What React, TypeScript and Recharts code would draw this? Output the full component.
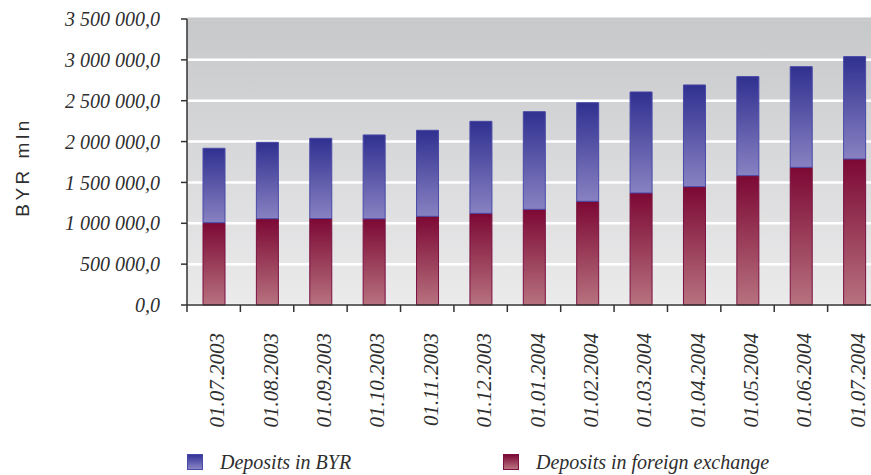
import { BarChart, Bar, XAxis, YAxis, CartesianGrid, Legend, ReferenceLine } from 'recharts';

const dates = [
  '01.07.2003', '01.08.2003', '01.09.2003', '01.10.2003', '01.11.2003', '01.12.2003',
  '01.01.2004', '01.02.2004', '01.03.2004', '01.04.2004', '01.05.2004', '01.06.2004', '01.07.2004',
];
const foreignDeposits = [
  1007000, 1056000, 1058000, 1055000, 1085000, 1122000,
  1171000, 1269000, 1371000, 1448000, 1583000, 1685000, 1787000,
];
const byrDeposits = [
  911000, 935000, 982000, 1026000, 1053000, 1126000,
  1195000, 1207000, 1236000, 1245000, 1212000, 1232000, 1253000,
];
const yTicks = [0, 500000, 1000000, 1500000, 2000000, 2500000, 3000000, 3500000];
const yMax = 3500000;

const data = dates.map((date, i) => ({ date, foreign: foreignDeposits[i], byr: byrDeposits[i] }));

const serif = '"Liberation Serif", "Times New Roman", serif';
const textColor = '#2e2e2e';

const formatValue = (v: number) => {
  const s = Math.round(v).toString().replace(/\B(?=(\d{3})+(?!\d))/g, ' ');
  return `${s},0`;
};

const XTick = (props: any) => {
  const { x, y, payload } = props;
  const edge = x - (payload.offset || 0);
  return (
    <g>
      <line x1={edge} x2={edge} y1={y} y2={y + 7} stroke="#333" strokeWidth={1.5} />
      <text
        x={x}
        y={y + 28}
        transform={`rotate(-90, ${x}, ${y + 28})`}
        textAnchor="end"
        dy="0.5em"
        fontFamily={serif}
        fontStyle="italic"
        fontSize={21}
        fill={textColor}
      >
        {payload.value}
      </text>
    </g>
  );
};

const YLabel = (props: any) => {
  const { viewBox } = props;
  const cx = 22;
  const cy = viewBox.y + viewBox.height / 2 + 5;
  return (
    <text
      x={cx}
      y={cy}
      transform={`rotate(-90, ${cx}, ${cy})`}
      textAnchor="middle"
      dy="0.35em"
      fontFamily='"Liberation Sans", Arial, sans-serif'
      fontSize={19}
      letterSpacing={3.5}
      fill={textColor}
    >
      BYR mln
    </text>
  );
};

const legendItems = [
  { label: 'Deposits in BYR', left: 187, bg: 'linear-gradient(#333399, #8a84c4)', border: '#4a4aa8' },
  { label: 'Deposits in foreign exchange', left: 503, bg: 'linear-gradient(#7c0a36, #b8727f)', border: '#7a1040' },
];

const LegendContent = () => (
  <div style={{ position: 'relative', width: 871, height: 25 }}>
    {legendItems.map((item) => (
      <div key={item.label} style={{ position: 'absolute', left: item.left, top: 3, display: 'flex', alignItems: 'center' }}>
        <span
          style={{
            display: 'inline-block',
            width: 16,
            height: 16,
            background: item.bg,
            border: `1px solid ${item.border}`,
            boxSizing: 'border-box',
          }}
        />
        <span
          style={{
            marginLeft: 17,
            fontFamily: serif,
            fontStyle: 'italic',
            fontSize: 20,
            color: textColor,
            lineHeight: '18px',
          }}
        >
          {item.label}
        </span>
      </div>
    ))}
  </div>
);

export default function App() {
  return (
    <div style={{ position: 'absolute', left: 0, top: 0, width: 871, height: 475, overflow: 'hidden', background: '#fff' }}>
      <BarChart width={881} height={475} data={data} margin={{ top: 19, right: 0, left: 0, bottom: 0 }} barSize={22}>
        <defs>
          <linearGradient id="plotBg" x1="0" y1="0" x2="0" y2="1">
            <stop offset="0%" stopColor="#c7c8ca" />
            <stop offset="100%" stopColor="#ebebec" />
          </linearGradient>
          <linearGradient id="blueFill" x1="0" y1="0" x2="0" y2="1">
            <stop offset="0%" stopColor="#303090" />
            <stop offset="100%" stopColor="#8882c2" />
          </linearGradient>
          <linearGradient id="redFill" x1="0" y1="0" x2="0" y2="1">
            <stop offset="0%" stopColor="#7c0834" />
            <stop offset="100%" stopColor="#b7727f" />
          </linearGradient>
        </defs>
        <CartesianGrid vertical={false} fill="url(#plotBg)" fillOpacity={1} stroke="#ffffff" strokeWidth={2.5} />
        <ReferenceLine y={yMax} stroke="#c7c8ca" strokeWidth={3} />
        <XAxis
          dataKey="date"
          height={145}
          tickLine={false}
          tickSize={0}
          tickMargin={0}
          axisLine={{ stroke: '#333', strokeWidth: 1.5 }}
          interval={0}
          tick={<XTick />}
        />
        <YAxis
          type="number"
          domain={[0, yMax]}
          ticks={yTicks}
          width={187}
          tickSize={6}
          tickMargin={21}
          axisLine={{ stroke: '#333', strokeWidth: 1.5 }}
          tickLine={{ stroke: '#333', strokeWidth: 1.5 }}
          tickFormatter={formatValue}
          tick={{ fontFamily: serif, fontStyle: 'italic', fontSize: 20, fill: textColor }}
          label={<YLabel />}
        />
        <Legend
          verticalAlign="bottom"
          content={<LegendContent />}
          wrapperStyle={{ left: 0, top: 450, width: 871, height: 25 }}
        />
        <Bar dataKey="foreign" stackId="a" fill="url(#redFill)" stroke="#7a1040" strokeWidth={1} isAnimationActive={false} />
        <Bar dataKey="byr" stackId="a" fill="url(#blueFill)" stroke="#4a4aa8" strokeWidth={1} isAnimationActive={false} />
      </BarChart>
    </div>
  );
}
